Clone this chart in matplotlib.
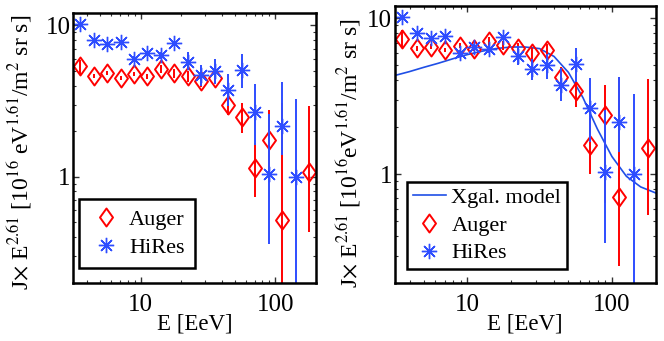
import matplotlib
matplotlib.use('Agg')
import numpy as np
import matplotlib.pyplot as plt
from matplotlib.path import Path
from matplotlib.ticker import LogLocator, NullFormatter, FixedLocator, FixedFormatter

# ---------------- data (E in EeV, values of J x E^2.61) ----------------
hires_E = [3.55, 4.47, 5.62, 7.08, 8.91, 11.2, 14.1, 17.8, 22.4, 28.2, 35.5,
           44.7, 56.2, 70.8, 89.1, 112, 141]
hires_val = [10.2, 8.0, 7.47, 7.7, 6.03, 6.55, 6.33, 7.6, 5.75, 4.72, 5.0,
             3.75, 5.1, 2.67, 1.04, 2.15, 1.0]
hires_hi = [10.2, 8.0, 7.6, 7.8, 6.3, 6.8, 6.7, 7.8, 6.65, 5.5, 5.95,
            4.8, 6.5, 4.12, 2.6, 4.2, 3.25]
hires_lo = [10.2, 8.0, 7.3, 7.6, 5.8, 6.3, 6.0, 7.4, 5.05, 4.0, 4.1,
            2.95, 3.88, 1.62, 0.36, 1.4, 0.05]

auger_E = [3.55, 4.47, 5.62, 7.08, 8.91, 11.2, 14.1, 17.8, 22.4, 28.2, 35.5,
           44.7, 56.2, 70.8, 89.1, 112, 178]
# left panel
auger_val_a = [5.37, 4.61, 4.85, 4.52, 4.80, 4.61, 5.13, 4.83, 4.61, 4.27, 4.52,
               3.0, 2.49, 1.14, 1.76, 0.52, 1.07]
auger_hi_a = [5.9, 4.75, 5.0, 4.66, 4.95, 4.78, 5.45, 5.15, 5.0, 4.6, 4.9,
              3.32, 3.05, 1.66, 2.75, 3.05, 2.92]
auger_lo_a = [4.75, 4.47, 4.7, 4.38, 4.65, 4.44, 4.81, 4.51, 4.22, 3.94, 4.14,
              2.55, 1.95, 0.74, 0.98, 0.05, 0.43]
# right panel
auger_val_b = [7.41, 6.43, 6.59, 6.28, 6.69, 6.34, 7.16, 6.73, 6.49, 5.98, 6.25,
               4.18, 3.44, 1.55, 2.41, 0.71, 1.48]
auger_hi_b = [8.38, 6.65, 6.8, 6.5, 6.9, 6.55, 7.6, 7.15, 7.0, 6.5, 6.8,
              4.84, 3.98, 2.29, 3.75, 4.22, 4.08]
auger_lo_b = [6.56, 6.2, 6.38, 6.06, 6.48, 6.13, 6.72, 6.3, 6.0, 5.5, 5.7,
              3.52, 2.72, 1.01, 0.65, 0.26, 0.55]

model_E = [3.16, 3.98, 5.01, 6.31, 7.94, 10.0, 12.6, 15.8, 20.0, 25.1, 31.6,
           39.8, 50.1, 63.1, 79.4, 100, 126, 158, 200]
model_val = [4.3, 4.55, 4.85, 5.15, 5.5, 5.85, 6.15, 6.4, 6.55, 6.55, 6.4,
             5.7, 4.5, 3.1, 1.95, 1.3, 0.97, 0.83, 0.76]

xticks = [10, 100]
xticklabels = ['10', '100']
yticks = [1, 10]
yticklabels = ['1', '10']

# ---------------- style ----------------
plt.rcParams['font.family'] = ['Liberation Serif', 'DejaVu Serif']
plt.rcParams['mathtext.fontset'] = 'stix'

RED = '#ff0000'
BLUE = '#2e4dff'
MODEL = '#1f4fe6'
TICKFS = 18
XLFS = 16.5
YLFS = 17
LEGFS = 16

diamond = Path([(0, 1), (0.72, 0), (0, -1), (-0.72, 0), (0, 1)],
               [Path.MOVETO, Path.LINETO, Path.LINETO, Path.LINETO, Path.CLOSEPOLY])
star = (8, 2, 0)

fig = plt.figure(figsize=(6.64, 3.41), dpi=100)
W, H = 664.0, 341.0


def make_ax(x0, x1, ytop, ybot):
    return fig.add_axes([x0 / W, 1 - ybot / H, (x1 - x0) / W, (ybot - ytop) / H])


def style_ax(ax):
    ax.set_xscale('log')
    ax.set_yscale('log')
    ax.set_xlim(3.16, 200)
    ax.set_ylim(0.2, 12)
    ax.xaxis.set_major_locator(FixedLocator(xticks))
    ax.xaxis.set_major_formatter(FixedFormatter(xticklabels))
    ax.yaxis.set_major_locator(FixedLocator(yticks))
    ax.yaxis.set_major_formatter(FixedFormatter(yticklabels))
    ax.xaxis.set_minor_locator(LogLocator(subs=np.arange(2, 10)))
    ax.yaxis.set_minor_locator(LogLocator(subs=np.arange(2, 10)))
    ax.xaxis.set_minor_formatter(NullFormatter())
    ax.yaxis.set_minor_formatter(NullFormatter())
    ax.tick_params(which='both', direction='in', top=True, right=True,
                   labelsize=TICKFS, color='#333333')
    ax.tick_params(which='major', length=4, width=1.0)
    ax.tick_params(which='minor', length=2.5, width=0.8)
    ax.tick_params(axis='x', pad=8)
    ax.tick_params(axis='y', pad=2)
    for s in ax.spines.values():
        s.set_linewidth(1.8)
    ax.set_xlabel('E [EeV]', fontsize=XLFS, labelpad=-2)


def draw_data(ax, aval, ahi, alo):
    av = np.array(aval)
    ax.errorbar(auger_E, av, yerr=[av - np.array(alo), np.array(ahi) - av],
                fmt='none', ecolor=RED, elinewidth=1.4, capsize=0)
    ha, = ax.plot(auger_E, av, ls='none', marker=diamond, ms=13, mfc='none',
                  mec=RED, mew=1.4)
    hv = np.array(hires_val)
    ax.errorbar(hires_E, hv, yerr=[hv - np.array(hires_lo), np.array(hires_hi) - hv],
                fmt='none', ecolor=BLUE, elinewidth=1.4, capsize=0)
    hh, = ax.plot(hires_E, hv, ls='none', marker=star, ms=11, mfc='none',
                  mec=BLUE, mew=1.0)
    return ha, hh


# left panel
ax1 = make_ax(73.3, 316, 13.3, 282.7)
style_ax(ax1)
ha1, hh1 = draw_data(ax1, auger_val_a, auger_hi_a, auger_lo_a)
ax1.set_ylabel(r'J$\times$ E$^{2.61}$ [10$^{16}$ eV$^{1.61}$/m$^2$ sr s]',
               fontsize=YLFS)
ax1.yaxis.set_label_coords((34 - 73.3) / 242.7, (282.7 - 152) / 269.4)
leg1 = ax1.legend([ha1, hh1], ['Auger', 'HiRes'], loc='lower left',
                  bbox_to_anchor=(79 / W, 1 - 268 / H), bbox_transform=fig.transFigure,
                  fontsize=LEGFS, fancybox=False, framealpha=1, edgecolor='black',
                  handlelength=1.5, handletextpad=0.3, borderpad=0.45,
                  labelspacing=0.35, borderaxespad=0)
leg1.get_frame().set_linewidth(1.8)

# right panel
ax2 = make_ax(394.7, 655.5, 6, 283.3)
style_ax(ax2)
hm, = ax2.plot(model_E, model_val, color=MODEL, lw=1.2)
ha2, hh2 = draw_data(ax2, auger_val_b, auger_hi_b, auger_lo_b)
ax2.set_ylabel(r'J$\times$ E$^{2.61}$ [10$^{16}$eV$^{1.61}$/m$^2$ sr s]',
               fontsize=YLFS)
ax2.yaxis.set_label_coords((363 - 394.7) / 260.8, (283.3 - 153) / 277.3)
leg2 = ax2.legend([hm, ha2, hh2], ['Xgal. model', 'Auger', 'HiRes'], loc='lower left',
                  bbox_to_anchor=(407 / W, 1 - 269 / H), bbox_transform=fig.transFigure,
                  fontsize=LEGFS, fancybox=False, framealpha=1, edgecolor='black',
                  handlelength=1.5, handletextpad=0.25, borderpad=0.25,
                  labelspacing=0.32, borderaxespad=0)
leg2.get_frame().set_linewidth(1.8)

fig.savefig('out.png', dpi=100)
